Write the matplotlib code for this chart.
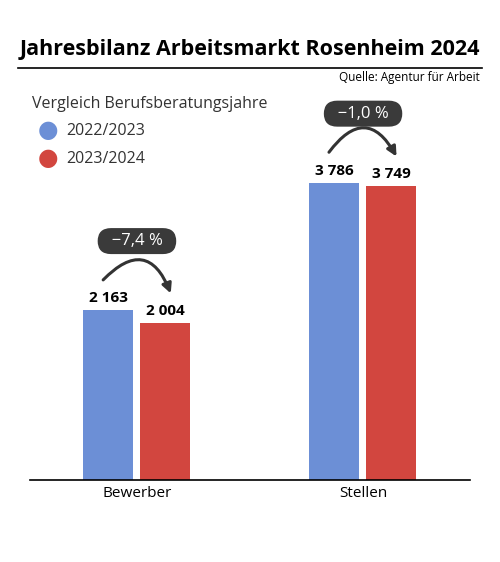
import matplotlib
matplotlib.use("Agg")
import matplotlib.pyplot as plt

categories = ["Bewerber", "Stellen"]
series_names = ["2022/2023", "2023/2024"]
v2223 = [2163, 3786]
v2324 = [2004, 3749]
labels2223 = ["2 163", "3 786"]
labels2324 = ["2 004", "3 749"]
changes = ["\u22127,4 %", "\u22121,0 %"]

blue = "#6c8fd6"; red = "#d2463f"
W, H = 500, 562
fig = plt.figure(figsize=(W/100, H/100), dpi=100)
plt.rcParams['font.family'] = ['Open Sans', 'DejaVu Sans']

fig.text(0.5, 1-50/H, "Jahresbilanz Arbeitsmarkt Rosenheim 2024", ha="center", va="center",
         fontsize=15.5, fontweight="bold")
fig.add_artist(plt.Line2D([18/W, 482/W], [1-68/H, 1-68/H], color="black", lw=1.2))
fig.text(480/W, 1-78/H, "Quelle: Agentur für Arbeit", ha="right", va="center", fontsize=8.5)
fig.text(32/W, 1-104/H, "Vergleich Berufsberatungsjahre", ha="left", va="center", fontsize=11.5, color="#333")
for i, (n, c) in enumerate(zip(series_names, [blue, red])):
    y = 1-(131+28*i)/H
    fig.text(48/W, y, "\u25CF", ha="center", va="center", fontsize=17, color=c)
    fig.text(66/W, y, n, ha="left", va="center", fontsize=11.5, color="#333")

ax = fig.add_axes([30/W, 82/H, 440/W, 380/H])
ax.set_xlim(-0.473, 1.473)
ax.set_ylim(0, 4840)
x = range(len(categories))
bw = 0.221
xb = [i-0.128 for i in x]; xr = [i+0.124 for i in x]
ax.bar(xb, v2223, bw, color=blue)
ax.bar(xr, v2324, bw, color=red)
for i in x:
    ax.text(xb[i], v2223[i]+60, labels2223[i], ha="center", va="bottom", fontsize=11, fontweight="bold")
    ax.text(xr[i], v2324[i]+60, labels2324[i], ha="center", va="bottom", fontsize=11, fontweight="bold")
    top = max(v2223[i], v2324[i])
    ax.annotate("", xy=(xr[i]+0.03, v2324[i]+340), xytext=(xb[i]-0.03, v2223[i]+360),
                arrowprops=dict(arrowstyle="-|>", color="#333", lw=2.2, mutation_scale=14,
                                connectionstyle="arc3,rad=-0.8"))
    ax.text(i, top+880, "  " + changes[i] + "  ", ha="center", va="center", fontsize=12, color="white",
            bbox=dict(boxstyle="round,pad=0.3,rounding_size=0.8", fc="#3a3a3a", ec="none"))
for s in ["top", "right", "left"]:
    ax.spines[s].set_visible(False)
ax.spines["bottom"].set_linewidth(1.2)
ax.set_yticks([])
ax.set_xticks(list(x))
ax.set_xticklabels(categories, fontsize=11)
ax.tick_params(axis="x", length=0, pad=4)
fig.savefig("out.png", dpi=100)
